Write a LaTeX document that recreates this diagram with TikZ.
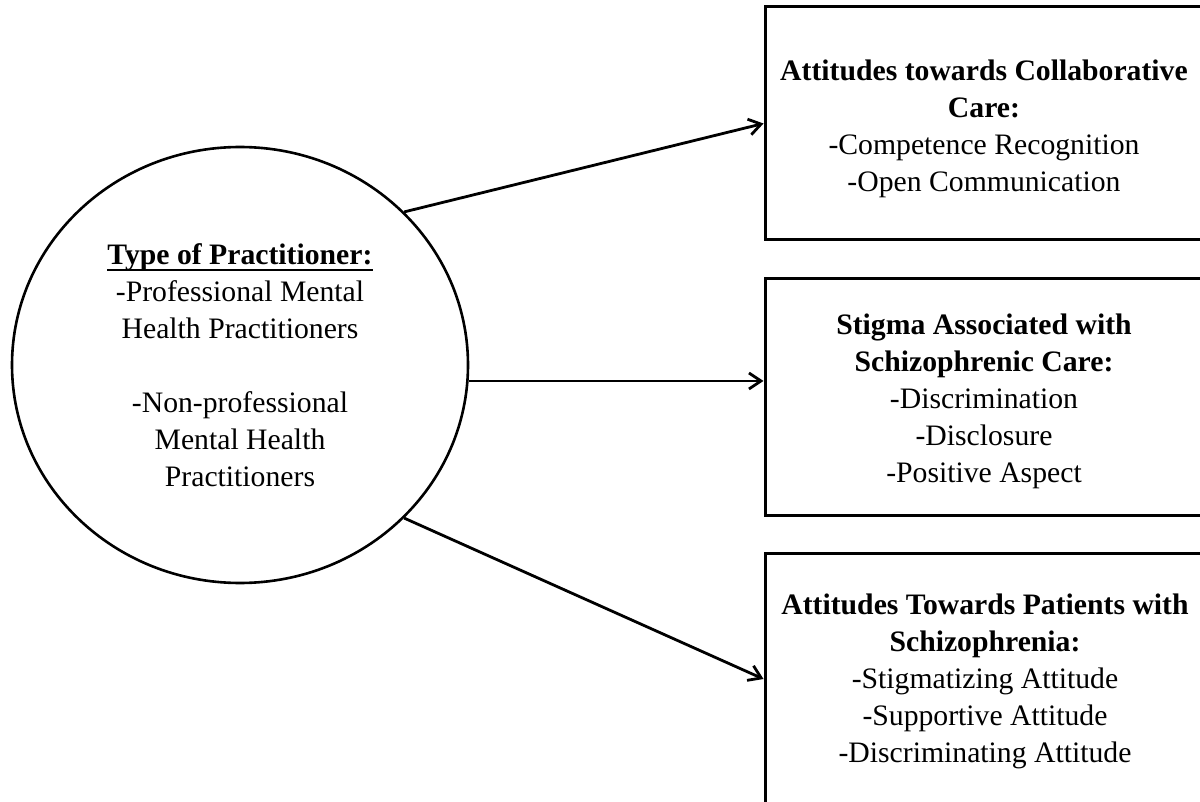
\documentclass[tikz,border=0pt]{standalone}
\usepackage{fontspec}
\setmainfont{Liberation Serif}
\usetikzlibrary{shapes.geometric,arrows.meta}
\newcommand\ulbold[1]{\sbox0{#1}\rlap{\usebox0}\rule[-7pt]{\wd0}{2pt}}
\begin{document}
\begin{tikzpicture}[x=1pt,y=-1pt,
  txt/.style={align=center,font=\fontsize{29.7}{37}\selectfont,inner sep=0pt},
  boxnode/.style={draw,line width=3pt,minimum width=445pt,minimum height=#1,inner sep=0pt},
  conn/.style={line width=2.8pt,-{Straight Barb[length=12pt,width=16pt]}}]
\useasboundingbox (0,0) rectangle (1200,802);
\clip (0,0) rectangle (1200,802);
\fill[white] (0,0) rectangle (1200,802);

\node[ellipse,draw,line width=2.6pt,minimum width=456pt,minimum height=436pt,inner sep=0pt,txt] (circ) at (240,365)
  {\ulbold{\textbf{Type of Practitioner:}}\\-Professional Mental\\Health Practitioners\\[37pt]-Non-professional\\Mental Health\\Practitioners};

\node[boxnode=233pt] (box1) at (987.5,123.5) {};
\node[boxnode=236pt] (box2) at (987.5,397) {};
\node[boxnode=252pt] (box3) at (987.5,679) {};

\node[txt] (t1) at (984,129) {\textbf{Attitudes towards Collaborative}\\\textbf{Care:}\\-Competence Recognition\\-Open Communication};
\node[txt] (t2) at (984,401.5) {\textbf{Stigma Associated with}\\\textbf{Schizophrenic Care:}\\-Discrimination\\-Disclosure\\-Positive Aspect};
\node[txt] (t3) at (985,681.5) {\textbf{Attitudes Towards Patients with}\\\textbf{Schizophrenia:}\\-Stigmatizing Attitude\\-Supportive Attitude\\-Discriminating Attitude};

\draw[conn] (circ.43) -- (box1.west);
\draw[conn] (circ.-4) -- (circ.-4 -| box2.west);
\draw[conn] (circ.-43) -- (box3.west);
\end{tikzpicture}
\end{document}
